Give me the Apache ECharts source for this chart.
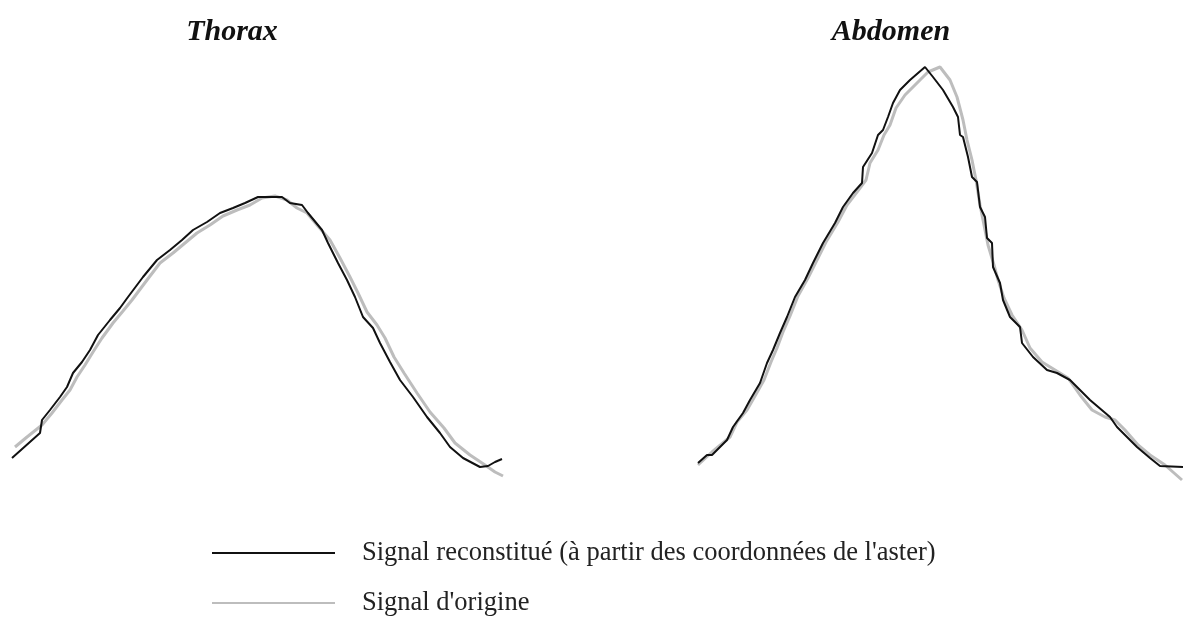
<!DOCTYPE html>
<html>
<head>
<meta charset="utf-8">
<script src="https://cdn.jsdelivr.net/npm/echarts@6/dist/echarts.min.js"></script>
<style>html,body{margin:0;padding:0;background:#fff}#c{width:1184px;height:620px}</style>
</head>
<body>
<div id="c"></div>
<script>
// Series names
const nameRecon = "Signal reconstitué (à partir des coordonnées de l'aster)";
const nameOrig = "Signal d'origine";
const panelTitles = ['Thorax', 'Abdomen'];

// Thorax — reconstructed signal [sample, amplitude]
const thoraxRecon = [[0,22],[28,47],[30,60],[38,70],[48,83],[55,93],[61,107],[70,118],[78,130],[86,145],[98,160],[108,172],[116,183],[131,203],[145,220],[158,230],[170,240],[181,250],[195,258],[208,267],[221,272],[233,277],[246,283],[270,283],[278,277],[290,275],[296,267],[310,250],[316,237],[326,217],[335,200],[343,183],[351,163],[361,152],[368,137],[378,118],[388,100],[401,83],[415,63],[428,47],[438,33],[451,22],[468,13],[476,14],[483,18],[490,21]];
// Thorax — original signal
const thoraxOrig = [[3,33],[15,43],[30,55],[40,67],[50,80],[58,90],[65,103],[73,115],[81,128],[90,142],[101,157],[111,169],[120,180],[135,200],[148,217],[161,227],[173,237],[185,247],[198,255],[211,264],[225,270],[238,275],[250,282],[263,284],[275,280],[285,272],[295,267],[305,255],[318,240],[328,222],[338,203],[346,187],[355,168],[365,155],[373,142],[382,123],[392,107],[405,87],[418,68],[432,52],[443,37],[458,25],[473,15],[483,8],[491,4]];
// Abdomen — reconstructed signal
const abdomenRecon = [[0,17],[9,25],[14,25],[29,40],[35,53],[45,67],[52,80],[62,97],[69,117],[75,130],[82,147],[89,163],[97,183],[107,200],[115,217],[125,237],[137,257],[145,273],[155,287],[164,297],[165,313],[174,327],[180,345],[185,350],[190,363],[195,377],[202,390],[212,400],[227,413],[235,403],[245,390],[255,373],[260,363],[262,345],[265,343],[270,323],[274,303],[279,298],[282,273],[287,263],[289,242],[294,237],[295,213],[302,197],[305,180],[312,163],[322,153],[324,137],[335,123],[349,110],[359,107],[372,100],[392,80],[412,63],[419,53],[439,33],[452,22],[462,14],[485,13]];
// Abdomen — original signal
const abdomenOrig = [[0,15],[14,28],[32,43],[39,58],[49,70],[57,84],[66,100],[73,118],[79,132],[85,148],[92,164],[100,184],[110,202],[118,218],[128,238],[140,258],[149,275],[159,288],[168,300],[172,317],[180,330],[186,345],[192,355],[198,372],[207,385],[217,395],[230,408],[242,413],[252,400],[259,383],[265,360],[269,340],[274,320],[278,300],[282,275],[286,255],[290,235],[296,215],[300,200],[306,182],[314,165],[324,150],[332,132],[344,118],[357,110],[370,102],[382,85],[394,70],[407,63],[417,60],[427,50],[440,35],[452,25],[467,15],[484,0]];

const serif = "'Liberation Serif','DejaVu Serif',serif";
const chart = echarts.init(document.getElementById('c'), null, {renderer: 'canvas'});
const hiddenAxis = {show: false};
const origColor = '#bdbdbd';
const reconColor = '#111';
const titleStyle = {fontFamily: serif, fontStyle: 'italic', fontWeight: 'bold', fontSize: 30, color: '#111'};

chart.setOption({
  animation: false,
  backgroundColor: '#fff',
  title: [
    {text: panelTitles[0], left: 227, top: 12, textAlign: 'center', textStyle: titleStyle},
    {text: panelTitles[1], left: 886, top: 12, textAlign: 'center', textStyle: titleStyle}
  ],
  grid: [
    {left: 12, width: 492, top: 67, height: 413},
    {left: 698, width: 486, top: 67, height: 413}
  ],
  xAxis: [
    {type: 'value', gridIndex: 0, min: 0, max: 492, ...hiddenAxis},
    {type: 'value', gridIndex: 1, min: 0, max: 486, ...hiddenAxis}
  ],
  yAxis: [
    {type: 'value', gridIndex: 0, min: 0, max: 413, ...hiddenAxis},
    {type: 'value', gridIndex: 1, min: 0, max: 413, ...hiddenAxis}
  ],
  legend: {
    orient: 'vertical',
    left: 212, top: 539,
    padding: 0,
    itemWidth: 123, itemHeight: 2, itemGap: 22,
    icon: 'rect',
    data: [nameRecon, nameOrig],
    textStyle: {fontFamily: serif, fontSize: 26.5, lineHeight: 28, color: '#222', padding: [0, 0, 0, 22]}
  },
  series: [
    {name: nameOrig, type: 'line', xAxisIndex: 0, yAxisIndex: 0, data: thoraxOrig, symbol: 'none', clip: false, lineStyle: {color: origColor, width: 3}, itemStyle: {color: origColor}, z: 1},
    {name: nameOrig, type: 'line', xAxisIndex: 1, yAxisIndex: 1, data: abdomenOrig, symbol: 'none', clip: false, lineStyle: {color: origColor, width: 3}, itemStyle: {color: origColor}, z: 1},
    {name: nameRecon, type: 'line', xAxisIndex: 0, yAxisIndex: 0, data: thoraxRecon, symbol: 'none', clip: false, lineStyle: {color: reconColor, width: 2}, itemStyle: {color: reconColor}, z: 2},
    {name: nameRecon, type: 'line', xAxisIndex: 1, yAxisIndex: 1, data: abdomenRecon, symbol: 'none', clip: false, lineStyle: {color: reconColor, width: 2}, itemStyle: {color: reconColor}, z: 2}
  ]
});
</script>
</body>
</html>
